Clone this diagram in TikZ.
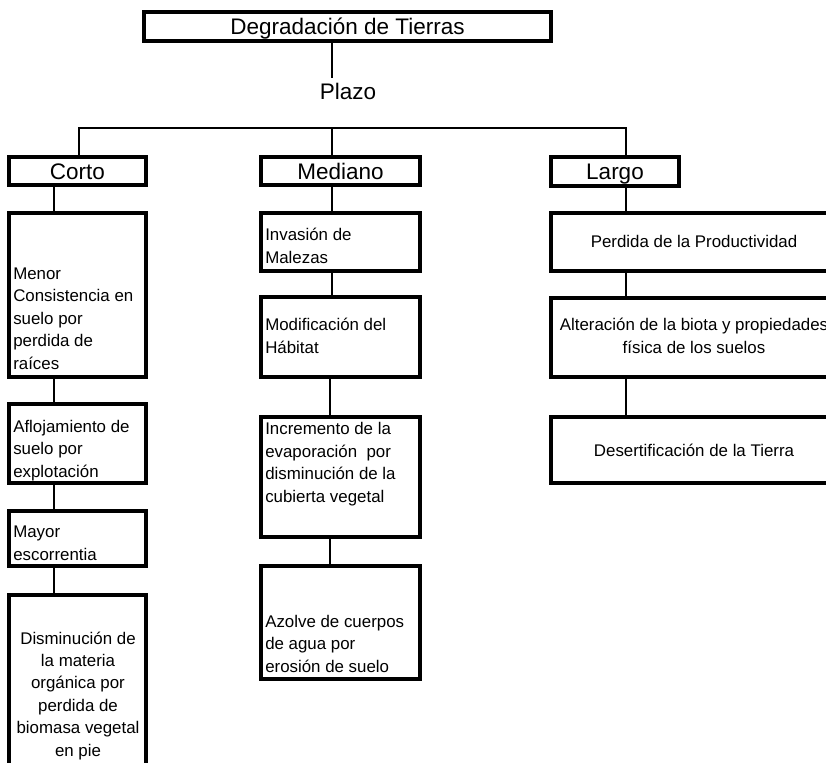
\documentclass[tikz,border=0pt]{standalone}
\usepackage{fontspec}
\setmainfont{Liberation Sans}
\usepackage{tikz}

\newcommand{\pxu}{0.025cm}
\tikzset{
  box/.style={draw, line width=2.2pt, inner sep=0pt, outer sep=0pt},
  head/.style={font=\fontsize{16}{19}\selectfont, text height=14pt, text depth=2.6pt},
  txt/.style={inner sep=0pt, font=\fontsize{12}{15.9}\selectfont},
  link/.style={line width=0.8pt}
}

\begin{document}
\begin{tikzpicture}[x=\pxu, y=-\pxu]
        \useasboundingbox (0,0) rectangle (826,762);
        \clip (0,0) rectangle (826,762);
        % top of the tree
        \node[box, head, minimum width=407*\pxu, minimum height=29*\pxu] (degrad) at (347.5,26.5) {Degradaci\'on de Tierras};
        \node[head, inner sep=0pt, anchor=base] (plazo) at (348,99) {Plazo};
        \node[box, head, minimum width=137*\pxu, minimum height=28*\pxu] (corto) at (77.5,171) {Corto};
        \node[box, head, minimum width=159*\pxu, minimum height=28*\pxu] (mediano) at (340.5,171) {Mediano};
        \node[box, head, minimum width=128*\pxu, minimum height=29*\pxu] (largo) at (615,171.5) {Largo};
        \coordinate (bar) at (332,128);
        \coordinate (plazotop) at (332,78);
        \coordinate (axC) at (54,0);
        \coordinate (axCt) at (79,0);
        \coordinate (axM) at (330,0);
        \coordinate (axL) at (626,0);
        \draw[link] (degrad.south -| bar) -- (plazotop);
        \draw[link] (axCt |- corto.north) |- (bar) -| (axL |- largo.north);
        \draw[link] (bar) -- (mediano.north -| bar);
        % Corto
        \node[box, minimum width=137*\pxu, minimum height=164*\pxu] (menor) at (77.5,295) {};
        \node[box, minimum width=137*\pxu, minimum height=79*\pxu] (afloj) at (77.5,443.5) {};
        \node[box, minimum width=137*\pxu, minimum height=55*\pxu] (mayor) at (77.5,538.5) {};
        \node[box, minimum width=137*\pxu, minimum height=195*\pxu] (dismin) at (77.5,692.5) {};
        \node[txt, align=left, anchor=base west] (tmenor) at (13,369) {Menor\\Consistencia en\\suelo por\\perdida de\\ra\'ices};
        \node[txt, align=left, anchor=base west] (tafloj) at (13,477) {Aflojamiento de\\suelo por\\explotaci\'on};
        \node[txt, align=left, anchor=base west] (tmayor) at (13,560) {Mayor\\escorrentia};
        \node[txt, align=center, anchor=base] (tdismin) at (78,756) {Disminuci\'on de\\la materia\\org\'anica por\\perdida de\\biomasa vegetal\\en pie};
        \draw[link] (corto.south -| axC) -- (menor.north -| axC);
        \draw[link] (menor.south -| axC) -- (afloj.north -| axC);
        \draw[link] (afloj.south -| axC) -- (mayor.north -| axC);
        \draw[link] (mayor.south -| axC) -- (dismin.north -| axC);
        % Mediano
        \node[box, minimum width=159*\pxu, minimum height=58*\pxu] (invas) at (340.5,242) {};
        \node[box, minimum width=159*\pxu, minimum height=80*\pxu] (modif) at (340.5,337) {};
        \node[box, minimum width=159*\pxu, minimum height=120*\pxu] (increm) at (340.5,477) {};
        \node[box, minimum width=159*\pxu, minimum height=113*\pxu] (azolve) at (340.5,622.5) {};
        \node[txt, align=left, anchor=base west] (tinvas) at (265,263) {Invasi\'on de\\Malezas};
        \node[txt, align=left, anchor=base west] (tmodif) at (265,353) {Modificaci\'on del\\H\'abitat};
        \node[txt, align=left, anchor=base west] (tincrem) at (265,502) {Incremento de la\\evaporaci\'on\ \ por\\disminuci\'on de la\\cubierta vegetal};
        \node[txt, align=left, anchor=base west] (tazolve) at (265,672) {Azolve de cuerpos\\de agua por\\erosi\'on de suelo};
        \draw[link] (mediano.south -| bar) -- (invas.north -| bar);
        \draw[link] (invas.south -| bar) -- (modif.north -| bar);
        \draw[link] (modif.south -| axM) -- (increm.north -| axM);
        \draw[link] (increm.south -| axM) -- (azolve.north -| axM);
        % Largo
        \node[box, minimum width=286*\pxu, minimum height=58*\pxu] (perdida) at (694,242) {};
        \node[box, minimum width=286*\pxu, minimum height=79*\pxu] (alter) at (694,337.5) {};
        \node[box, minimum width=286*\pxu, minimum height=66*\pxu] (desert) at (694,450) {};
        \node[txt, anchor=base] (tperdida) at (694,247) {Perdida de la Productividad};
        \node[txt, align=center, anchor=base] (talter) at (694,353) {Alteraci\'on de la biota y propiedades\\f\'isica de los suelos};
        \node[txt, anchor=base] (tdesert) at (694,456) {Desertificaci\'on de la Tierra};
        \draw[link] (largo.south -| axL) -- (perdida.north -| axL);
        \draw[link] (perdida.south -| axL) -- (alter.north -| axL);
        \draw[link] (alter.south -| axL) -- (desert.north -| axL);
    \end{tikzpicture}
\end{document}
